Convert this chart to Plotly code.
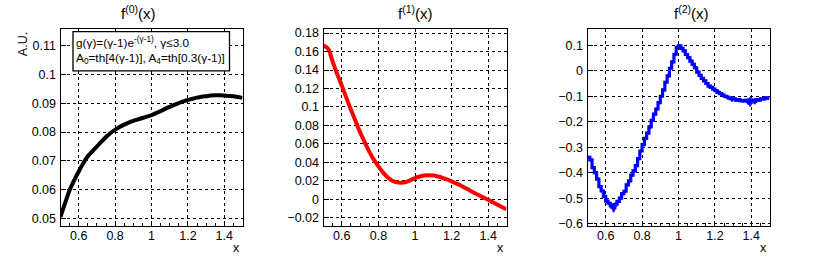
import numpy as np
import plotly.graph_objects as go

# ---------------- data ----------------
X_SMOOTH = [0.500, 0.525, 0.550, 0.575, 0.600, 0.625, 0.650, 0.675, 0.700, 0.725,
            0.750, 0.775, 0.800, 0.825, 0.850, 0.875, 0.900, 0.925, 0.950, 0.975,
            1.000, 1.025, 1.050, 1.075, 1.100, 1.125, 1.150, 1.175, 1.200, 1.225,
            1.250, 1.275, 1.300, 1.325, 1.350, 1.375, 1.400, 1.425, 1.450, 1.475, 1.500]

F0 = [0.0505, 0.0553, 0.0598, 0.0632, 0.0663, 0.0692, 0.0716, 0.0733, 0.0750, 0.0767,
      0.0783, 0.0797, 0.0808, 0.0818, 0.0826, 0.0833, 0.0839, 0.0844, 0.0849, 0.0854,
      0.0859, 0.0866, 0.0873, 0.0881, 0.0888, 0.0895, 0.0901, 0.0907, 0.0912, 0.0916,
      0.0920, 0.0923, 0.0925, 0.0927, 0.0928, 0.0928, 0.0927, 0.0926, 0.0925, 0.0922, 0.0919]

F1 = [0.1665, 0.1630, 0.1490, 0.1355, 0.1231, 0.1098, 0.0969, 0.0847, 0.0725, 0.0620,
      0.0516, 0.0430, 0.0358, 0.0292, 0.0238, 0.0202, 0.0184, 0.0180, 0.0187, 0.0208,
      0.0229, 0.0247, 0.0257, 0.0261, 0.0257, 0.0247, 0.0233, 0.0215, 0.0194, 0.0172,
      0.0149, 0.0123, 0.0097, 0.0070, 0.0044, 0.0019, -0.0005, -0.0031, -0.0057, -0.0082, -0.0106]

# f2 histogram: 80 bins between 0.5 and 1.5
F2_XMIN, F2_XMAX = 0.5, 1.5
F2 = [-0.340, -0.350, -0.380, -0.400, -0.425, -0.455, -0.472, -0.493, -0.512, -0.520,
      -0.530, -0.537, -0.524, -0.513, -0.500, -0.482, -0.473, -0.448, -0.432, -0.410,
      -0.393, -0.372, -0.345, -0.315, -0.290, -0.265, -0.245, -0.220, -0.195, -0.170,
      -0.150, -0.125, -0.100, -0.075, -0.045, -0.020, 0.010, 0.035, 0.065, 0.092,
      0.098, 0.088, 0.078, 0.064, 0.052, 0.038, 0.025, 0.012, -0.005, -0.018,
      -0.030, -0.040, -0.050, -0.060, -0.065, -0.072, -0.078, -0.085, -0.090, -0.095,
      -0.100, -0.103, -0.107, -0.110, -0.110, -0.115, -0.113, -0.117, -0.118, -0.116,
      -0.120, -0.122, -0.118, -0.120, -0.113, -0.115, -0.110, -0.110, -0.107, -0.106]
F2_ERR = [0, 0, 0, 0, 0, 0, 0, 0, 0, 0,
          0.006, 0.012, 0.004, 0, 0, 0, 0, 0, 0, 0,
          0, 0, 0, 0, 0, 0, 0, 0, 0, 0,
          0, 0, 0, 0, 0, 0, 0, 0, 0, 0,
          0, 0, 0, 0, 0, 0, 0, 0, 0, 0,
          0, 0, 0, 0, 0, 0, 0, 0, 0, 0,
          0, 0, 0, 0.005, 0, 0, 0, 0, 0, 0,
          0.006, 0.012, 0.004, 0.005, 0, 0, 0, 0, 0, 0]

X_TICKS = [0.6, 0.8, 1.0, 1.2, 1.4]
X_TICKTEXT = ["0.6", "0.8", "1", "1.2", "1.4"]
Y0_TICKS = [0.05, 0.06, 0.07, 0.08, 0.09, 0.10, 0.11]
Y0_TEXT = ["0.05", "0.06", "0.07", "0.08", "0.09", "0.1", "0.11"]
Y1_TICKS = [-0.02, 0.0, 0.02, 0.04, 0.06, 0.08, 0.10, 0.12, 0.14, 0.16, 0.18]
Y1_TEXT = ["\u22120.02", "0", "0.02", "0.04", "0.06", "0.08", "0.1", "0.12", "0.14", "0.16", "0.18"]
Y2_TICKS = [-0.6, -0.5, -0.4, -0.3, -0.2, -0.1, 0.0, 0.1]
Y2_TEXT = ["\u22120.6", "\u22120.5", "\u22120.4", "\u22120.3", "\u22120.2", "\u22120.1", "0", "0.1"]

TITLES = ["f<sup>(0)</sup>(x)", "f<sup>(1)</sup>(x)", "f<sup>(2)</sup>(x)"]

# ---------------- layout geometry ----------------
W, H = 830, 258
FONT = "Liberation Sans"
panels_px = [(60.5, 242.5), (323.5, 506.5), (587.5, 769.5)]
pad_centers = [138.3, 415.0, 691.7]
top_px, bot_px = 27, 230
ydom = [1 - bot_px / H, 1 - top_px / H]
yranges = [[0.0474, 0.1158], [-0.0287, 0.1842], [-0.6088, 0.1634]]

fig = go.Figure()

fig.add_trace(go.Scatter(x=X_SMOOTH, y=F0, mode="lines", line=dict(color="black", width=4, shape="spline"),
                         xaxis="x", yaxis="y", showlegend=False))
fig.add_trace(go.Scatter(x=X_SMOOTH, y=F1, mode="lines", line=dict(color="#ff0000", width=4, shape="spline"),
                         xaxis="x2", yaxis="y2", showlegend=False))

edges = np.linspace(F2_XMIN, F2_XMAX, len(F2) + 1)
centers = 0.5 * (edges[:-1] + edges[1:])
fig.add_trace(go.Scatter(x=list(edges), y=F2 + [F2[-1]], mode="lines",
                         line=dict(color="#0000ff", width=3.2, shape="hv"),
                         xaxis="x3", yaxis="y3", showlegend=False))
fig.add_trace(go.Scatter(x=list(centers), y=F2, mode="markers",
                         marker=dict(size=1, color="rgba(0,0,255,0)"),
                         error_y=dict(type="data", array=F2_ERR, color="#0000ff", thickness=3.2, width=1),
                         xaxis="x3", yaxis="y3", showlegend=False))

def axis_common():
    return dict(showline=True, linecolor="black", linewidth=1, mirror=True,
                ticks="inside", ticklen=5, tickcolor="black",
                showgrid=True, gridcolor="black", gridwidth=1, griddash="dot",
                zeroline=False, tickfont=dict(family=FONT, size=12.5, color="black"))

yticks = [(Y0_TICKS, Y0_TEXT), (Y1_TICKS, Y1_TEXT), (Y2_TICKS, Y2_TEXT)]
for i, (l, r) in enumerate(panels_px):
    sx = "" if i == 0 else str(i + 1)
    xa = axis_common()
    xa.update(domain=[l / W, r / W], range=[0.5, 1.5], tickvals=X_TICKS, ticktext=X_TICKTEXT,
              anchor="y" + sx, ticklabelstandoff=-2,
              minor=dict(ticks="inside", ticklen=3, dtick=0.05, tick0=0.5, tickcolor="black", showgrid=False))
    ya = axis_common()
    ya.update(domain=ydom, range=yranges[i], tickvals=yticks[i][0], ticktext=yticks[i][1],
              anchor="x" + sx, ticklabelstandoff=1)
    fig.layout["xaxis" + sx] = xa
    fig.layout["yaxis" + sx] = ya
    # title
    fig.add_annotation(x=pad_centers[i] / W, y=1 - 10 / H, xref="paper", yref="paper",
                       text=TITLES[i], showarrow=False, xanchor="center", yanchor="middle",
                       font=dict(family=FONT, size=15, color="black"))
    # x axis label
    fig.add_annotation(x=(r - 1) / W, y=0, xref="paper", yref="paper",
                       text="x", showarrow=False, xanchor="right", yanchor="bottom", yshift=-4,
                       font=dict(family=FONT, size=12.5, color="black"))

# y title
fig.add_annotation(x=23 / W, y=1 - 28 / H, xref="paper", yref="paper", text="A.U.",
                   textangle=-90, showarrow=False, xanchor="center", yanchor="top",
                   font=dict(family=FONT, size=12.5, color="black"))

# text box
fig.add_shape(type="rect", xref="paper", yref="paper",
              x0=73 / W, x1=229.5 / W, y0=1 - 70 / H, y1=1 - 29.5 / H,
              line=dict(color="black", width=1.3), fillcolor="white", layer="above")
fig.add_annotation(x=74 / W, y=1 - 41 / H, xref="paper", yref="paper",
                   text="g(\u03b3)=(\u03b3-1)e<sup>-(\u03b3-1)</sup>, \u03b3\u22643.0",
                   showarrow=False, xanchor="left", yanchor="middle",
                   font=dict(family=FONT, size=11.8, color="black"))
fig.add_annotation(x=74 / W, y=1 - 57 / H, xref="paper", yref="paper",
                   text="A<sub>0</sub>=th[4(\u03b3-1)], A<sub>4</sub>=th[0.3(\u03b3-1)]",
                   showarrow=False, xanchor="left", yanchor="middle",
                   font=dict(family=FONT, size=11.8, color="black"))

fig.update_layout(width=W, height=H, margin=dict(l=0, r=0, t=0, b=0),
                  paper_bgcolor="white", plot_bgcolor="white", showlegend=False,
                  font=dict(family=FONT, color="black"))

fig.write_html("out.html", config={"displayModeBar": False},
               post_script="document.body.style.margin='0';document.body.style.padding='0';"
                           "document.body.style.overflow='hidden';")
